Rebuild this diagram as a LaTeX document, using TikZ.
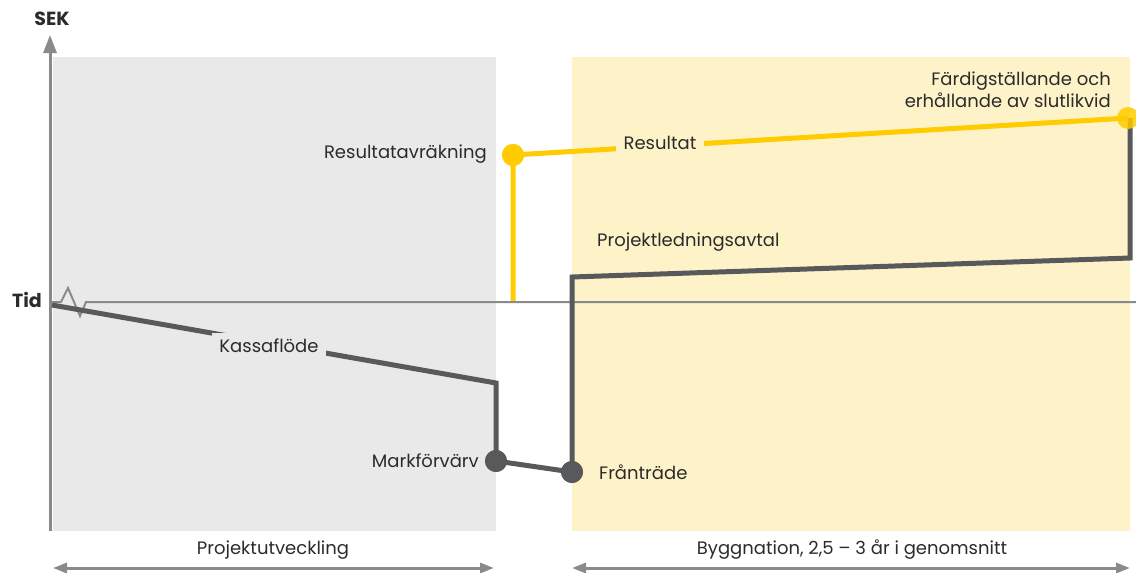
\documentclass[tikz,border=0pt]{standalone}
\usepackage{fontspec}
\setmainfont{Poppins}
\usetikzlibrary{arrows.meta}
\definecolor{axisgray}{HTML}{8A8A8C}
\definecolor{bggray}{HTML}{E8E9E8}
\definecolor{bgyellow}{HTML}{FEF3C8}
\definecolor{darkline}{HTML}{58595B}
\definecolor{goldline}{HTML}{FECC00}
\definecolor{txt}{HTML}{2B2B2B}
\tikzset{
  axisline/.style={draw=axisgray, line width=3pt},
  cashline/.style={draw=darkline, line width=5pt, line join=miter},
  resline/.style={draw=goldline, line width=5pt},
  lbl/.style={font=\fontsize{18}{22}\selectfont, text=txt, inner sep=2pt},
  axislbl/.style={font=\fontsize{19}{22}\selectfont\bfseries, text=txt, inner sep=1pt},
  darkdot/.style={circle, fill=darkline, minimum size=22pt, inner sep=0pt},
  golddot/.style={circle, fill=goldline, minimum size=22pt, inner sep=0pt},
}
\begin{document}
\begin{tikzpicture}[x=1pt, y=-1pt]
\useasboundingbox (0,0) rectangle (1136,573);
% backgrounds
\fill[bggray] (53,57) rectangle (496,531);
\fill[bgyellow] (572,57) rectangle (1130,531);
% y axis
\coordinate (ybot) at (50,531);
\coordinate (ytop) at (50,35);
\draw[axisline, -{Triangle[length=18pt,width=13pt]}] (ybot) -- (ytop);
\node[axislbl] (sek) at (52,19) {SEK};
% time axis with zigzag
\coordinate (t0) at (50,302);
\coordinate (t1) at (61,302);
\coordinate (t2) at (68,288);
\coordinate (t3) at (80,316);
\coordinate (t4) at (86,302);
\coordinate (tend) at (1136,302);
\draw[draw=axisgray, line width=2pt] (t0) -- (t1) -- (t2) -- (t3) -- (t4) -- (tend);
\node[axislbl, anchor=east] (tid) at (43,300) {Tid};
% bottom arrows
\coordinate (a1) at (53,568);
\coordinate (a2) at (494,568);
\coordinate (b1) at (572,568);
\coordinate (b2) at (1130,568);
\draw[axisline, {Triangle[length=14pt,width=10pt]}-{Triangle[length=14pt,width=10pt]}] (a1) -- (a2);
\draw[axisline, {Triangle[length=14pt,width=10pt]}-{Triangle[length=14pt,width=10pt]}] (b1) -- (b2);
\node[lbl] (pu) at (273,550) {Projektutveckling};
\node[lbl] (byg) at (852,550) {Byggnation, 2,5 – 3 år i genomsnitt};
% cash flow line
\coordinate (c0) at (52,305);
\coordinate (c1) at (496,383);
\coordinate (c2) at (572,277);
\coordinate (c3) at (1130,258);
\coordinate (c4) at (1130,118);
\node[darkdot] (mark) at (496,461) {};
\node[darkdot] (fran) at (572,472) {};
\draw[cashline] (c0) -- (c1) -- (mark.center) -- (fran.center) -- (c2) -- (c3) -- (c4);
\node[darkdot] at (mark) {};
\node[darkdot] at (fran) {};
\node[lbl, fill=bggray, inner xsep=7pt, inner ysep=6pt] (kassa) at (269,346) {Kassaflöde};
\node[lbl, anchor=east] (markl) at (481,461) {Markförvärv};
\node[lbl, anchor=west] (franl) at (597,472) {Frånträde};
\node[lbl, anchor=west] (pla) at (595,242) {Projektledningsavtal};
% result line
\coordinate (r0) at (513,301);
\node[golddot] (ravr) at (513,155) {};
\node[golddot, opacity=0.85] (fard) at (1128,118) {};
\draw[resline] (r0) -- (ravr.center) -- (fard.center);
\node[golddot] at (ravr) {};
\node[lbl, fill=bgyellow, inner xsep=8pt, inner ysep=6pt] (res) at (660,143) {Resultat};
\node[lbl, anchor=east] (ravrl) at (489,154) {Resultatavräkning};
\node[lbl, anchor=east, align=right] (fardl) at (1113,90) {Färdigställande och\\erhållande av slutlikvid};
\end{tikzpicture}
\end{document}
